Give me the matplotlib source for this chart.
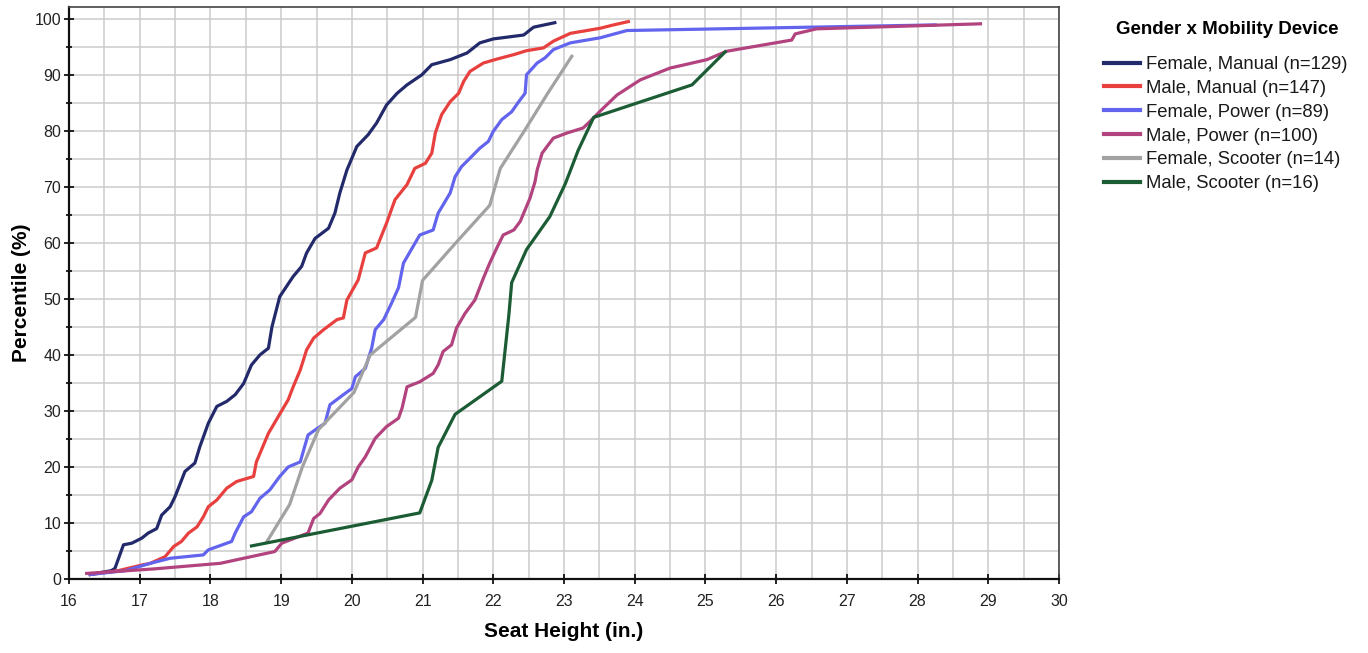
import matplotlib
matplotlib.use("Agg")
import matplotlib.pyplot as plt
from matplotlib.ticker import MultipleLocator

plt.rcParams['font.family'] = ['Liberation Sans', 'DejaVu Sans']

# Kurven (Sitzhöhe in Zoll, Perzentil in %)
fm_x = [16.30, 16.60, 16.65, 16.77, 16.89, 17.03, 17.12, 17.24, 17.31, 17.43, 17.50, 17.64,
        17.78, 17.85, 17.97, 18.09, 18.23, 18.35, 18.47, 18.58, 18.70, 18.82, 18.87, 18.98,
        19.17, 19.29, 19.36, 19.48, 19.67, 19.76, 19.83, 19.93, 20.07, 20.23, 20.35, 20.49,
        20.64, 20.78, 20.99, 21.13, 21.39, 21.63, 21.81, 22.00, 22.43, 22.57, 22.87]
fm_y = [0.8, 1.5, 1.9, 6.1, 6.4, 7.3, 8.2, 9.0, 11.4, 12.9, 14.7, 19.2,
        20.7, 23.6, 27.8, 30.8, 31.7, 32.9, 34.9, 38.2, 40.0, 41.2, 45.0, 50.4,
        54.0, 55.8, 58.2, 60.8, 62.6, 65.3, 68.9, 73.0, 77.2, 79.3, 81.4, 84.6,
        86.7, 88.2, 90.0, 91.8, 92.7, 93.9, 95.7, 96.4, 97.1, 98.5, 99.3]

mm_x = [16.30, 16.70, 17.03, 17.15, 17.36, 17.48, 17.59, 17.69, 17.81, 17.90, 17.97, 18.09,
        18.23, 18.37, 18.61, 18.65, 18.82, 18.96, 19.10, 19.17, 19.27, 19.36, 19.46, 19.60,
        19.79, 19.88, 19.93, 20.09, 20.19, 20.35, 20.49, 20.61, 20.78, 20.89, 21.04, 21.13,
        21.18, 21.27, 21.39, 21.51, 21.58, 21.67, 21.86, 22.05, 22.29, 22.47, 22.71, 22.85,
        23.09, 23.51, 23.70, 23.91]
mm_y = [0.8, 1.5, 2.5, 2.8, 4.0, 5.8, 6.7, 8.2, 9.3, 11.1, 12.9, 14.1,
        16.2, 17.4, 18.3, 20.9, 26.0, 29.0, 32.0, 34.3, 37.3, 40.9, 43.0, 44.5,
        46.3, 46.6, 49.8, 53.4, 58.2, 59.1, 63.5, 67.7, 70.4, 73.3, 74.2, 76.0,
        79.6, 82.9, 85.2, 86.7, 88.8, 90.6, 92.1, 92.8, 93.6, 94.3, 94.8, 96.0,
        97.4, 98.3, 98.9, 99.5]

fp_x = [16.30, 16.80, 17.15, 17.43, 17.90, 17.97, 18.30, 18.35, 18.47, 18.58, 18.70, 18.84,
        18.98, 19.10, 19.27, 19.38, 19.48, 19.62, 19.69, 19.88, 20.00, 20.05, 20.19, 20.28,
        20.33, 20.45, 20.56, 20.66, 20.73, 20.96, 21.15, 21.22, 21.39, 21.46, 21.55, 21.67,
        21.81, 21.93, 22.00, 22.12, 22.26, 22.36, 22.45, 22.47, 22.62, 22.73, 22.85, 23.09,
        23.51, 23.89, 26.48, 28.25]
fp_y = [0.8, 1.5, 2.8, 3.7, 4.3, 5.2, 6.7, 8.2, 11.1, 12.0, 14.4, 15.9,
        18.3, 20.0, 20.9, 25.7, 26.6, 27.8, 31.1, 32.9, 34.0, 36.1, 37.6, 41.2,
        44.5, 46.3, 49.2, 52.0, 56.4, 61.4, 62.3, 65.3, 68.9, 71.8, 73.6, 75.1,
        76.9, 78.1, 79.9, 82.0, 83.4, 85.2, 86.7, 90.0, 92.1, 93.0, 94.5, 95.7,
        96.6, 97.9, 98.5, 98.9]

mp_x = [16.25, 17.20, 18.14, 18.91, 19.01, 19.38, 19.46, 19.55, 19.67, 19.83, 20.00, 20.09,
        20.19, 20.33, 20.49, 20.66, 20.71, 20.78, 20.96, 21.15, 21.22, 21.29, 21.41, 21.48,
        21.60, 21.74, 21.86, 21.95, 22.05, 22.14, 22.29, 22.38, 22.45, 22.52, 22.59, 22.62,
        22.69, 22.76, 22.85, 23.04, 23.27, 23.37, 23.51, 23.75, 24.08, 24.50, 25.02, 25.30,
        26.22, 26.27, 26.57, 28.89]
mp_y = [1.0, 1.8, 2.8, 4.9, 6.4, 8.2, 10.8, 11.7, 14.1, 16.2, 17.7, 20.0,
        21.8, 25.1, 27.2, 28.7, 30.5, 34.3, 35.2, 36.7, 38.2, 40.6, 41.8, 44.8,
        47.4, 49.8, 53.7, 56.4, 59.1, 61.4, 62.3, 63.8, 65.9, 68.0, 70.9, 73.0,
        76.0, 77.2, 78.7, 79.6, 80.5, 81.7, 83.5, 86.4, 89.1, 91.2, 92.7, 94.2,
        96.2, 97.3, 98.2, 99.1]

fs_x = [18.80, 19.12, 19.30, 19.53, 20.03, 20.26, 20.90, 21.00, 21.47, 21.95, 22.10, 22.44,
        22.77, 23.11]
fs_y = [6.7, 13.3, 20.0, 26.7, 33.3, 40.0, 46.7, 53.3, 60.0, 66.7, 73.3, 80.0, 86.7, 93.3]

ms_x = [18.58, 20.96, 21.13, 21.22, 21.46, 22.12, 22.17, 22.22, 22.26, 22.47, 22.80, 23.02,
        23.20, 23.42, 24.81, 25.28]
ms_y = [5.9, 11.8, 17.6, 23.5, 29.4, 35.3, 41.2, 47.1, 52.9, 58.8, 64.7, 70.6, 76.5, 82.4,
        88.2, 94.1]

labels = ['Female, Manual (n=129)', 'Male, Manual (n=147)', 'Female, Power (n=89)',
          'Male, Power (n=100)', 'Female, Scooter (n=14)', 'Male, Scooter (n=16)']
colors = ['#232a6b', '#e8403e', '#6264ee', '#b2437f', '#a2a2a2', '#1b5c35']
series = [(fm_x, fm_y), (mm_x, mm_y), (fp_x, fp_y), (mp_x, mp_y), (fs_x, fs_y), (ms_x, ms_y)]

fig = plt.figure(figsize=(13.68, 6.53), dpi=100)
ax = fig.add_axes([69 / 1368, 74 / 653, 990 / 1368, 572 / 653])

for (x, y), c, lab in zip(series, colors, labels):
    ax.plot(x, y, color=c, lw=2.3, label=lab, solid_joinstyle='round')

ax.set_xlim(16, 30)
ax.set_ylim(0, 102.1)
ax.xaxis.set_major_locator(MultipleLocator(1))
ax.xaxis.set_minor_locator(MultipleLocator(0.5))
ax.yaxis.set_major_locator(MultipleLocator(10))
ax.yaxis.set_minor_locator(MultipleLocator(5))
ax.set_yticks(range(0, 101, 10))
ax.grid(True, which='both', color='#cccccc', lw=1.1)
ax.set_axisbelow(True)

ax.tick_params(axis='both', which='major', direction='inout', length=7, width=1.2,
               labelsize=11.5, labelcolor='#222222')
ax.tick_params(axis='x', which='major', pad=7)
ax.tick_params(axis='y', which='major', pad=2)
ax.tick_params(axis='y', which='minor', direction='inout', length=4, width=1.2)
ax.tick_params(axis='x', which='minor', length=0)

for s in ['left', 'bottom']:
    ax.spines[s].set_linewidth(1.6)
    ax.spines[s].set_color('#111111')
for s in ['top', 'right']:
    ax.spines[s].set_linewidth(1.2)
    ax.spines[s].set_color('#444444')

ax.set_xlabel('Seat Height (in.)', fontsize=15, fontweight='bold', labelpad=10)
ax.set_ylabel('Percentile (%)', fontsize=15, fontweight='bold', labelpad=3)

# Legendentitel separat, damit der Abstand zu den Einträgen stimmt
fig.text(1227 / 1368, 1 - 29 / 653, 'Gender x Mobility Device', fontsize=13.5,
         fontweight='bold', ha='center', va='center')
leg = fig.legend(loc='upper left', bbox_to_anchor=(1104 / 1368, 1 - 56 / 653),
                 fontsize=13.3, frameon=False, labelcolor='#1a1a1a',
                 handlelength=1.95, handletextpad=0.3, labelspacing=0.37,
                 borderaxespad=0, borderpad=0)
for line in leg.get_lines():
    line.set_linewidth(3)

fig.savefig('out.png', dpi=100)
